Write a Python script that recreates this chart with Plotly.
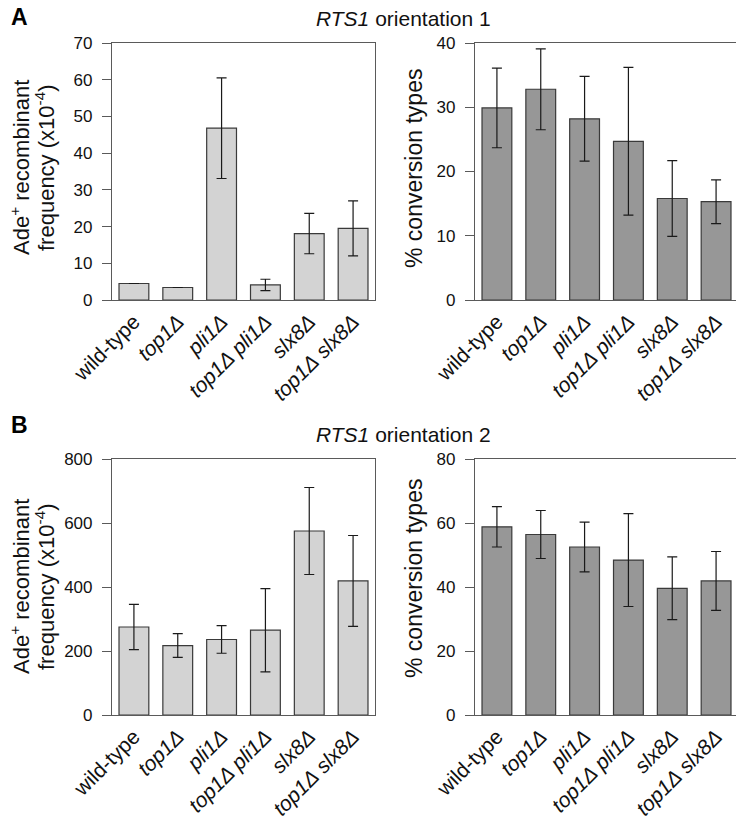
import plotly.graph_objects as go

# The page body has an 8px margin; lay everything out in window pixels
# and shift by that offset.
OFF = 8
W, H = 744 - OFF, 822 - OFF

categories = ["wild-type", "<i>top1Δ</i>", "<i>pli1Δ</i>", "<i>top1Δ pli1Δ</i>",
              "<i>slx8Δ</i>", "<i>top1Δ slx8Δ</i>"]

# Panel A (RTS1 orientation 1)
a_freq = [4.5, 3.4, 46.8, 4.1, 18.1, 19.5]
a_freq_err = [0, 0, 13.7, 1.55, 5.5, 7.5]
a_conv = [29.9, 32.8, 28.2, 24.7, 15.8, 15.3]
a_conv_err = [6.2, 6.3, 6.6, 11.5, 5.9, 3.4]

# Panel B (RTS1 orientation 2)
b_freq = [275, 217, 236, 265, 575, 419]
b_freq_err = [71, 37, 43, 130, 136, 142]
b_conv = [58.8, 56.4, 52.5, 48.4, 39.6, 41.9]
b_conv_err = [6.3, 7.5, 7.8, 14.5, 9.8, 9.2]

FONT = "Liberation Sans, Arial, Helvetica, sans-serif"
LIGHT = "#d3d3d3"
DARK = "#979797"
EDGE = "#3a3a3a"
AX = "#5a5a5a"

def px_x(p):
    return (p - OFF) / W

def px_y(p):
    return 1 - (p - OFF) / H

panels = [
    # (values, errors, color, xdomain px, ydomain px, yrange, dtick)
    (a_freq, a_freq_err, LIGHT, (112, 375), (43, 300), (0, 70), 10),
    (a_conv, a_conv_err, DARK, (475, 738), (43, 300), (0, 40), 10),
    (b_freq, b_freq_err, LIGHT, (112, 375), (459, 715), (0, 800), 200),
    (b_conv, b_conv_err, DARK, (475, 738), (459, 715), (0, 80), 20),
]

fig = go.Figure()
layout = dict(
    width=W, height=H,
    margin=dict(l=0, r=0, t=0, b=0, pad=0, autoexpand=False),
    paper_bgcolor="white", plot_bgcolor="white",
    showlegend=False,
    font=dict(family=FONT, color="#111"),
)

for i, (vals, errs, col, xd, yd, yr, dt) in enumerate(panels, start=1):
    xa = "x" if i == 1 else f"x{i}"
    ya = "y" if i == 1 else f"y{i}"
    fig.add_trace(go.Bar(
        x=list(range(len(categories))), y=vals,
        xaxis=xa, yaxis=ya,
        marker=dict(color=col, line=dict(color=EDGE, width=1.2)),
        width=0.68,
        error_y=dict(type="data", array=errs, visible=True,
                     color="#1a1a1a", thickness=1.2, width=5),
    ))
    xkey = "xaxis" if i == 1 else f"xaxis{i}"
    ykey = "yaxis" if i == 1 else f"yaxis{i}"
    layout[xkey] = dict(
        domain=[px_x(xd[0]), px_x(xd[1])],
        anchor=ya,
        automargin=False,
        range=[-0.5, len(categories) - 0.5],
        tickmode="array",
        tickvals=list(range(len(categories))),
        ticktext=categories,
        tickangle=-45,
        ticks="",
        showline=True, linecolor=AX, linewidth=1.2, mirror=True,
        showgrid=False, zeroline=False,
        tickfont=dict(size=21, family=FONT, color="#111"),
    )
    layout[ykey] = dict(
        domain=[px_y(yd[1]), px_y(yd[0])],
        anchor=xa,
        automargin=False,
        range=list(yr),
        dtick=dt, tick0=0,
        ticks="outside", ticklen=9, tickwidth=1.2, tickcolor=AX,
        ticklabelstandoff=6,
        showline=True, linecolor=AX, linewidth=1.2, mirror=True,
        showgrid=False, zeroline=False,
        tickfont=dict(size=17, family=FONT, color="#111"),
    )

annotations = []
# y-axis titles
for ycen_l, ycen_r in [(168, 168), (587, 578)]:
    annotations.append(dict(
        text="Ade<sup>+</sup> recombinant",
        x=px_x(20), y=px_y(ycen_l), xref="paper", yref="paper",
        xanchor="center", yanchor="middle", textangle=-90, showarrow=False,
        font=dict(size=22, family=FONT, color="#111"),
    ))
    annotations.append(dict(
        text="frequency (x10<sup>-4</sup>)",
        x=px_x(45), y=px_y(ycen_l), xref="paper", yref="paper",
        xanchor="center", yanchor="middle", textangle=-90, showarrow=False,
        font=dict(size=22, family=FONT, color="#111"),
    ))
    annotations.append(dict(
        text="% conversion types",
        x=px_x(414), y=px_y(ycen_r), xref="paper", yref="paper",
        xanchor="center", yanchor="middle", textangle=-90, showarrow=False,
        font=dict(size=23, family=FONT, color="#111"),
    ))

# panel titles
for txt, ycen in [("<i>RTS1</i> orientation 1", 19), ("<i>RTS1</i> orientation 2", 434)]:
    annotations.append(dict(
        text=txt, x=px_x(404), y=px_y(ycen), xref="paper", yref="paper",
        xanchor="center", yanchor="middle", showarrow=False,
        font=dict(size=21, family=FONT, color="#111"),
    ))

# panel letters
for txt, ycen in [("<b>A</b>", 17), ("<b>B</b>", 425)]:
    annotations.append(dict(
        text=txt, x=px_x(9), y=px_y(ycen), xref="paper", yref="paper",
        xanchor="left", yanchor="middle", showarrow=False,
        font=dict(size=23, family=FONT, color="#000"),
    ))

layout["annotations"] = annotations
fig.update_layout(**layout)
fig.write_html("out.html")
